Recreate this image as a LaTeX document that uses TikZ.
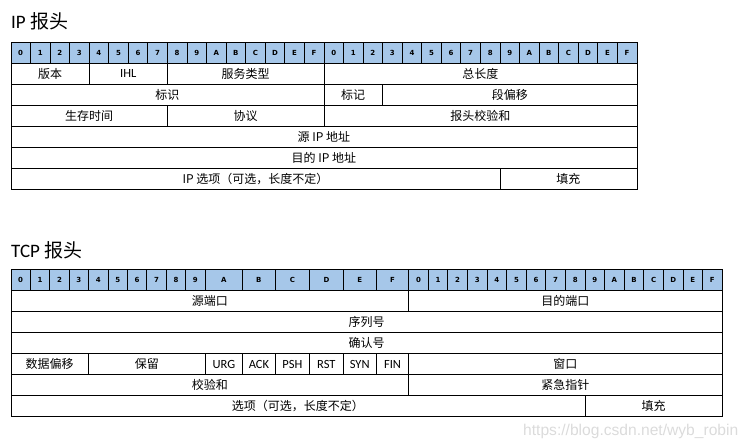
\documentclass[tikz,border=0pt]{standalone}
\usepackage{fontspec}
\setmainfont{Carlito}
\newfontfamily\cjk{Noto Sans CJK SC}
\newfontfamily\hdrfont{DejaVu Sans}
\newfontfamily\wmfont{Liberation Sans}
\definecolor{hdrblue}{RGB}{166,199,233}
\tikzset{
  bitcell/.style={draw, fill=hdrblue, line width=0.8pt, inner sep=0pt, anchor=north west, minimum height=21pt, font=\hdrfont\bfseries\fontsize{7}{8}\selectfont},
  field/.style={draw, line width=0.8pt, inner sep=0pt, anchor=north west, minimum height=21pt, font=\cjk\fontsize{12}{14}\selectfont},
  flagtxt/.style={font=\rmfamily\fontsize{12.5}{14}\selectfont},
  title/.style={anchor=base west, inner sep=0pt, font=\fontsize{19}{22}\selectfont},
  wmark/.style={anchor=base west, inner sep=0pt, text=black!14, font=\wmfont\fontsize{15.6}{18}\selectfont}
}
\begin{document}
\begin{tikzpicture}[x=1pt,y=-1pt]
\useasboundingbox (0,0) rectangle (751,446);
\node[title] (iptitle) at (11,28.3) {IP \cjk 报头};
\foreach \hx [count=\n from 0] in {0,1,2,3,4,5,6,7,8,9,A,B,C,D,E,F,0,1,2,3,4,5,6,7,8,9,A,B,C,D,E,F}
  \node[bitcell, minimum width=19.5625pt] (ipbit\n) at ({10.5+\n*19.5625},41.7) {\hx};
\node[field, minimum width={4*19.5625pt}] (ipver) at (10.5,62.7) {版本};
\node[field, flagtxt, minimum width={4*19.5625pt}] (ipihl) at (88.75,62.7) {IHL};
\node[field, minimum width={8*19.5625pt}] (iptos) at (167,62.7) {服务类型};
\node[field, minimum width={16*19.5625pt}] (iplen) at (323.5,62.7) {总长度};
\node[field, minimum width={16*19.5625pt}] (ipid) at (10.5,83.7) {标识};
\node[field, minimum width={3*19.5625pt}] (ipflag) at (323.5,83.7) {标记};
\node[field, minimum width={13*19.5625pt}] (ipfrag) at (382.19,83.7) {段偏移};
\node[field, minimum width={8*19.5625pt}] (ipttl) at (10.5,104.7) {生存时间};
\node[field, minimum width={8*19.5625pt}] (ipproto) at (167,104.7) {协议};
\node[field, minimum width={16*19.5625pt}] (ipsum) at (323.5,104.7) {报头校验和};
\node[field, minimum width={32*19.5625pt}] (ipsrc) at (10.5,125.7) {源 IP 地址};
\node[field, minimum width={32*19.5625pt}] (ipdst) at (10.5,146.7) {目的 IP 地址};
\node[field, minimum width={25*19.5625pt}] (ipopt) at (10.5,167.7) {IP 选项（可选，长度不定）};
\node[field, minimum width={7*19.5625pt}] (ippad) at (499.56,167.7) {填充};

\node[title] (tcptitle) at (11,257.5) {TCP \cjk 报头};
\foreach \hx [count=\n from 0] in {0,1,2,3,4,5,6,7,8,9}
  \node[bitcell, minimum width=19.42pt] (tcpbit\n) at ({10.5+\n*19.42},269.3) {\hx};
\foreach \hx/\x/\w in {A/204.7/37.6pt,B/242.3/32.4pt,C/274.7/34.6pt,D/309.3/33.4pt,E/342.7/33.3pt,F/376/32.3pt}
  \node[bitcell, minimum width=\w] (tcpbit\hx) at (\x,269.3) {\hx};
\foreach \hx [count=\n from 0] in {0,1,2,3,4,5,6,7,8,9,A,B,C,D,E,F}
  \node[bitcell, minimum width=19.59pt] (tcpbitb\n) at ({408.3+\n*19.59},269.3) {\hx};
\node[field, minimum width=397.8pt] (tcpsrc) at (10.5,290.3) {源端口};
\node[field, minimum width=313.4pt] (tcpdst) at (408.3,290.3) {目的端口};
\node[field, minimum width=711.2pt] (tcpseq) at (10.5,311.3) {序列号};
\node[field, minimum width=711.2pt] (tcpack) at (10.5,332.3) {确认号};
\node[field, minimum width={4*19.42pt}] (tcpoff) at (10.5,353.3) {数据偏移};
\node[field, minimum width={6*19.42pt}] (tcpres) at (88.18,353.3) {保留};
\foreach \fl/\x/\w in {URG/204.7/37.6pt,ACK/242.3/32.4pt,PSH/274.7/34.6pt,RST/309.3/33.4pt,SYN/342.7/33.3pt,FIN/376/32.3pt}
  \node[field, flagtxt, minimum width=\w] (tcp\fl) at (\x,353.3) {\fl};
\node[field, minimum width=313.4pt] (tcpwin) at (408.3,353.3) {窗口};
\node[field, minimum width=397.8pt] (tcpsum) at (10.5,374.3) {校验和};
\node[field, minimum width=313.4pt] (tcpurg) at (408.3,374.3) {紧急指针};
\node[field, minimum width=574.1pt] (tcpopt) at (10.5,395.3) {选项（可选，长度不定）};
\node[field, minimum width=137.1pt] (tcppad) at (584.6,395.3) {填充};
\node[wmark] (wm) at (523,435) {https://blog.csdn.net/wyb\_robin};
\end{tikzpicture}
\end{document}
